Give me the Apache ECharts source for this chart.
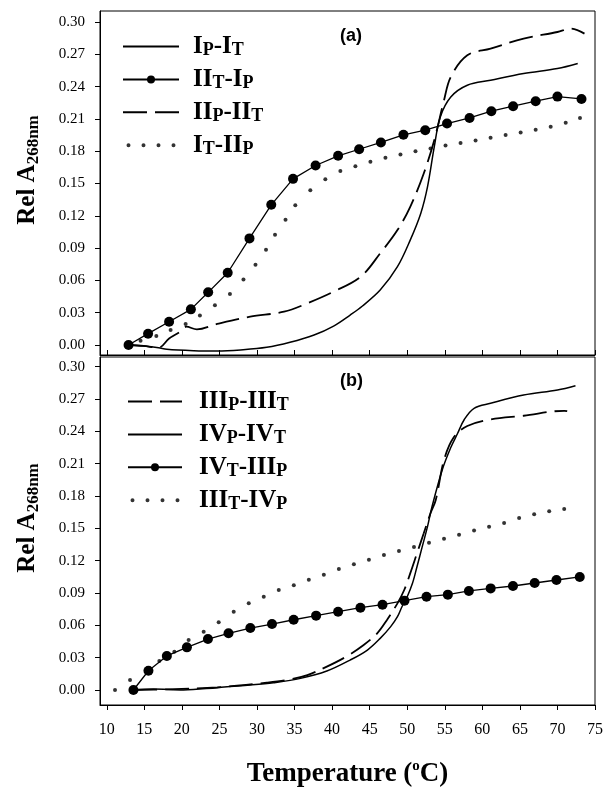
<!DOCTYPE html>
<html>
<head>
<meta charset="UTF-8">
<title>Rel A268nm vs Temperature</title>
<script src="https://cdn.jsdelivr.net/npm/echarts@6.0.0/dist/echarts.min.js"></script>
<style>
  html, body { margin: 0; padding: 0; background: #fff; }
  #chart { width: 605px; height: 790px; }
</style>
</head>
<body>
<div id="chart"></div>
<script>
// axis ticks
var xTicks = [10, 15, 20, 25, 30, 35, 40, 45, 50, 55, 60, 65, 70, 75];
var yTicks = [0, 0.03, 0.06, 0.09, 0.12, 0.15, 0.18, 0.21, 0.24, 0.27, 0.30];

// panel (a)  [temperature, rel A268]
var ipIt = [[12.9,0],[14.9,-0.0009],[16.9,-0.0025],[18.0,-0.004],[21.6,-0.0053],[24.7,-0.0056],[27.8,-0.0046],
  [31.3,-0.0022],[34.4,0.0025],[37.6,0.0093],[40.2,0.0176],[42.4,0.0278],[44.0,0.036],[46.4,0.051],[48.7,0.0727],
  [50.4,0.0974],[51.8,0.1222],[52.7,0.1469],[53.6,0.184],[54.4,0.2118],[55.8,0.2304],[58.0,0.2413],[61.1,0.2459],
  [65.5,0.2521],[70.0,0.2567],[72.7,0.2614]];
var iitIp = [[12.9,0],[15.5,0.0105],[18.3,0.0216],[21.2,0.0331],[23.5,0.0489],[26.1,0.0671],[29.0,0.099],[31.9,0.1302],
  [34.8,0.1543],[37.8,0.1667],[40.8,0.1757],[43.6,0.1818],[46.5,0.1881],[49.5,0.1952],[52.4,0.1995],[55.3,0.2057],
  [58.3,0.2109],[61.2,0.2171],[64.1,0.2218],[67.1,0.2264],[70.0,0.2307],[73.2,0.2285]];
var iipIit = [[12.9,0],[14.9,-0.0009],[16.9,-0.0025],[18.3,0.006],[19.8,0.0124],[20.6,0.017],[22.0,0.0145],[24.7,0.0195],
  [29.1,0.0263],[33.6,0.0309],[36.7,0.0387],[40.2,0.0495],[43.8,0.0634],[46.4,0.0851],[48.7,0.1067],[50.4,0.1283],
  [52.2,0.1593],[53.6,0.1902],[54.9,0.2273],[55.8,0.249],[58.0,0.2691],[61.1,0.2753],[65.5,0.2846],[70.0,0.2907],
  [71.8,0.2939],[73.6,0.2892]];
var itIip = [[14.5,0.004],[16.6,0.0084],[18.5,0.0139],[20.5,0.0195],[22.4,0.0275],[24.4,0.0368],[26.4,0.0473],[28.2,0.0609],
  [29.8,0.0745],[31.2,0.0885],[32.4,0.1024],[33.8,0.1163],[35.1,0.1299],[37.1,0.1438],[39.1,0.154],[41.1,0.1615],
  [43.1,0.1661],[45.1,0.1701],[47.1,0.1738],[49.1,0.1769],[51.1,0.18],[53.1,0.1825],[55.1,0.1853],[57.1,0.1877],
  [59.1,0.1899],[61.1,0.1924],[63.1,0.1951],[65.1,0.1974],[67.1,0.1998],[69.1,0.2026],[71.1,0.2063],[73.0,0.2109]];

// panel (b)
var iiipIiit = [[13.5,0],[18.0,0.0006],[24.7,0.0025],[31.3,0.0068],[34.0,0.0093],[36.7,0.0139],[39.3,0.0217],[42.0,0.0315],
  [44.2,0.0418],[46.0,0.0526],[47.3,0.065],[48.7,0.0804],[49.6,0.0928],[50.4,0.1082],[51.3,0.1268],[52.2,0.1454],
  [53.1,0.164],[53.8,0.1763],[54.9,0.2134],[56.2,0.2345],[58.0,0.245],[61.1,0.2511],[65.5,0.2545],[70.9,0.2591],[71.3,0.2588]];
var ivpIvt = [[13.5,0],[16.2,0.0009],[20.2,0],[24.7,0.0022],[29.1,0.0046],[32.2,0.0068],[35.8,0.0108],[39.3,0.0176],
  [42.4,0.0278],[44.7,0.0371],[46.4,0.0479],[47.8,0.0588],[48.7,0.068],[49.3,0.0773],[50.0,0.0866],[50.7,0.099],
  [51.3,0.1144],[52.0,0.133],[52.7,0.1516],[53.3,0.1701],[54.7,0.205],[55.8,0.225],[56.7,0.238],[57.6,0.251],
  [58.9,0.2614],[61.1,0.266],[65.5,0.2737],[70.0,0.2784],[72.4,0.2824]];
var ivtIiip = [[13.55,0],[15.55,0.0179],[18.0,0.0316],[20.67,0.0396],[23.47,0.0473],[26.21,0.0526],[29.11,0.0575],
  [32.0,0.0612],[34.88,0.0652],[37.87,0.069],[40.8,0.0727],[43.77,0.0764],[46.71,0.0792],[49.64,0.0829],[52.57,0.0866],
  [55.41,0.0885],[58.21,0.0919],[61.11,0.0943],[64.08,0.0965],[66.97,0.0993],[69.87,0.1021],[72.97,0.1049]];
var iiitIvp = [[11.1,0],[13.1,0.0093],[17.0,0.0269],[19.0,0.0356],[20.9,0.0464],[22.9,0.0541],[24.9,0.0628],[26.9,0.0727],
  [28.9,0.0804],[30.9,0.0866],[32.9,0.0928],[34.9,0.0971],[36.9,0.1024],[38.9,0.107],[40.9,0.1123],[42.9,0.1166],
  [44.9,0.1209],[46.9,0.1253],[48.9,0.129],[50.9,0.1327],[52.9,0.1367],[54.9,0.1404],[56.9,0.1441],[58.9,0.1481],
  [60.9,0.1516],[62.9,0.155],[64.9,0.1596],[66.9,0.163],[68.9,0.1658],[70.9,0.1679]];

// legend labels, P/T drawn as subscripts
var legendText = {
  'IP-IT': '{b|I}{s|P}{b|-I}{s|T}',
  'IIT-IP': '{b|II}{s|T}{b|-I}{s|P}',
  'IIP-IIT': '{b|II}{s|P}{b|-II}{s|T}',
  'IT-IIP': '{b|I}{s|T}{b|-II}{s|P}',
  'IIIP-IIIT': '{b|III}{s|P}{b|-III}{s|T}',
  'IVP-IVT': '{b|IV}{s|P}{b|-IV}{s|T}',
  'IVT-IIIP': '{b|IV}{s|T}{b|-III}{s|P}',
  'IIIT-IVP': '{b|III}{s|T}{b|-IV}{s|P}'
};

var serif = '"Liberation Serif", "Times New Roman", serif';
var dotsIcon = 'path://M0,-3M0,7' +
  'M0,2a2,2 0 1,0 4,0a2,2 0 1,0 -4,0z' +
  'M15,2a2,2 0 1,0 4,0a2,2 0 1,0 -4,0z' +
  'M30,2a2,2 0 1,0 4,0a2,2 0 1,0 -4,0z' +
  'M45,2a2,2 0 1,0 4,0a2,2 0 1,0 -4,0z';

var richLegend = {
  b: { fontFamily: serif, fontWeight: 'bold', fontSize: 25, lineHeight: 26, color: '#000' },
  s: { fontFamily: serif, fontWeight: 'bold', fontSize: 18, lineHeight: 14, verticalAlign: 'bottom', color: '#000' }
};

function xAxisOf(gi, min, showLabel) {
  return {
    type: 'value', gridIndex: gi, min: min, max: 75,
    axisLine: { onZero: false, lineStyle: { color: '#000', width: 1 } },
    axisTick: { inside: gi === 0, length: 5, customValues: xTicks, lineStyle: { color: '#000' } },
    axisLabel: {
      show: showLabel, customValues: xTicks, margin: 17,
      fontFamily: serif, fontSize: 16, color: '#000'
    },
    splitLine: { show: false },
    name: showLabel ? '{b|Temperature (}{sup|o}{b|C)}' : '',
    nameLocation: 'middle', nameGap: 54,
    nameTextStyle: {
      rich: {
        b: { fontFamily: serif, fontWeight: 'bold', fontSize: 27, lineHeight: 30, color: '#000' },
        sup: { fontFamily: serif, fontWeight: 'bold', fontSize: 15, lineHeight: 14, verticalAlign: 'top', color: '#000' }
      }
    }
  };
}

function yAxisOf(gi, min, max) {
  return {
    type: 'value', gridIndex: gi, min: min, max: max,
    axisLine: { onZero: false, lineStyle: { color: '#000', width: 1 } },
    axisTick: { length: 5, customValues: yTicks, lineStyle: { color: '#000' } },
    axisLabel: {
      customValues: yTicks, margin: 15,
      fontFamily: serif, fontSize: 15, color: '#000',
      formatter: function (v) { return v.toFixed(2); }
    },
    splitLine: { show: false },
    name: '{b|Rel A}{s|268nm}',
    nameLocation: 'middle', nameGap: 58,
    nameTextStyle: {
      padding: [0, 0, 0, 26],
      rich: {
        b: { fontFamily: serif, fontWeight: 'bold', fontSize: 25, lineHeight: 28, color: '#000' },
        s: { fontFamily: serif, fontWeight: 'bold', fontSize: 17, lineHeight: 16, verticalAlign: 'bottom', color: '#000' }
      }
    }
  };
}

function solid(name, data, gi, dash, width) {
  return {
    name: name, type: 'line', xAxisIndex: gi, yAxisIndex: gi, data: data,
    symbol: 'none', smooth: 0.35,
    lineStyle: { color: '#000', width: width, type: dash || 'solid' },
    itemStyle: { color: '#000' }
  };
}
function circles(name, data, gi) {
  return {
    name: name, type: 'line', xAxisIndex: gi, yAxisIndex: gi, data: data,
    symbol: 'circle', symbolSize: 10, showAllSymbol: true, z: 5,
    lineStyle: { color: '#000', width: 1.3 },
    itemStyle: { color: '#000' }
  };
}
function dots(name, data, gi) {
  return {
    name: name, type: 'scatter', xAxisIndex: gi, yAxisIndex: gi, data: data,
    symbol: 'circle', symbolSize: 4,
    itemStyle: { color: '#000' }
  };
}

function legendOf(left, top, itemWidth, pad, items) {
  return {
    orient: 'vertical', left: left, top: top, padding: 0,
    itemWidth: itemWidth, itemHeight: 10, itemGap: 7.4,
    selectedMode: false,
    data: items,
    formatter: function (n) { return legendText[n]; },
    textStyle: { padding: [0, 0, 0, pad], rich: richLegend }
  };
}

var chart = echarts.init(document.getElementById('chart'), null, { renderer: 'canvas' });
chart.setOption({
  animation: false,
  backgroundColor: '#fff',
  title: [
    { text: '(a)', left: 340, top: 27, padding: 0,
      textStyle: { fontFamily: '"Liberation Sans", Arial, sans-serif', fontWeight: 'bold', fontSize: 18, color: '#000' } },
    { text: '(b)', left: 340, top: 372, padding: 0,
      textStyle: { fontFamily: '"Liberation Sans", Arial, sans-serif', fontWeight: 'bold', fontSize: 18, color: '#000' } }
  ],
  grid: [
    { left: 100, top: 11, width: 495, height: 344, show: true, borderColor: '#000', borderWidth: 1, outerBoundsMode: 'none' },
    { left: 100, top: 357, width: 495, height: 348, show: true, borderColor: '#000', borderWidth: 1, outerBoundsMode: 'none' }
  ],
  xAxis: [xAxisOf(0, 9.1, false), xAxisOf(1, 9.1, true)],
  yAxis: [yAxisOf(0, -0.0093, 0.3102), yAxisOf(1, -0.0139, 0.309)],
  legend: [
    legendOf(122, 34, 56, 9, [
      { name: 'IP-IT', itemStyle: { opacity: 0 } },
      { name: 'IIT-IP' },
      { name: 'IIP-IIT', itemStyle: { opacity: 0 } },
      { name: 'IT-IIP', icon: dotsIcon }
    ]),
    legendOf(127, 389, 54, 12, [
      { name: 'IIIP-IIIT', itemStyle: { opacity: 0 } },
      { name: 'IVP-IVT', itemStyle: { opacity: 0 } },
      { name: 'IVT-IIIP' },
      { name: 'IIIT-IVP', icon: dotsIcon }
    ])
  ],
  series: [
    solid('IP-IT', ipIt, 0, 'solid', 1.5),
    circles('IIT-IP', iitIp, 0),
    solid('IIP-IIT', iipIit, 0, [24, 8], 1.8),
    dots('IT-IIP', itIip, 0),
    solid('IIIP-IIIT', iiipIiit, 1, [24, 8], 1.8),
    solid('IVP-IVT', ivpIvt, 1, 'solid', 1.5),
    circles('IVT-IIIP', ivtIiip, 1),
    dots('IIIT-IVP', iiitIvp, 1)
  ]
});
</script>
</body>
</html>
